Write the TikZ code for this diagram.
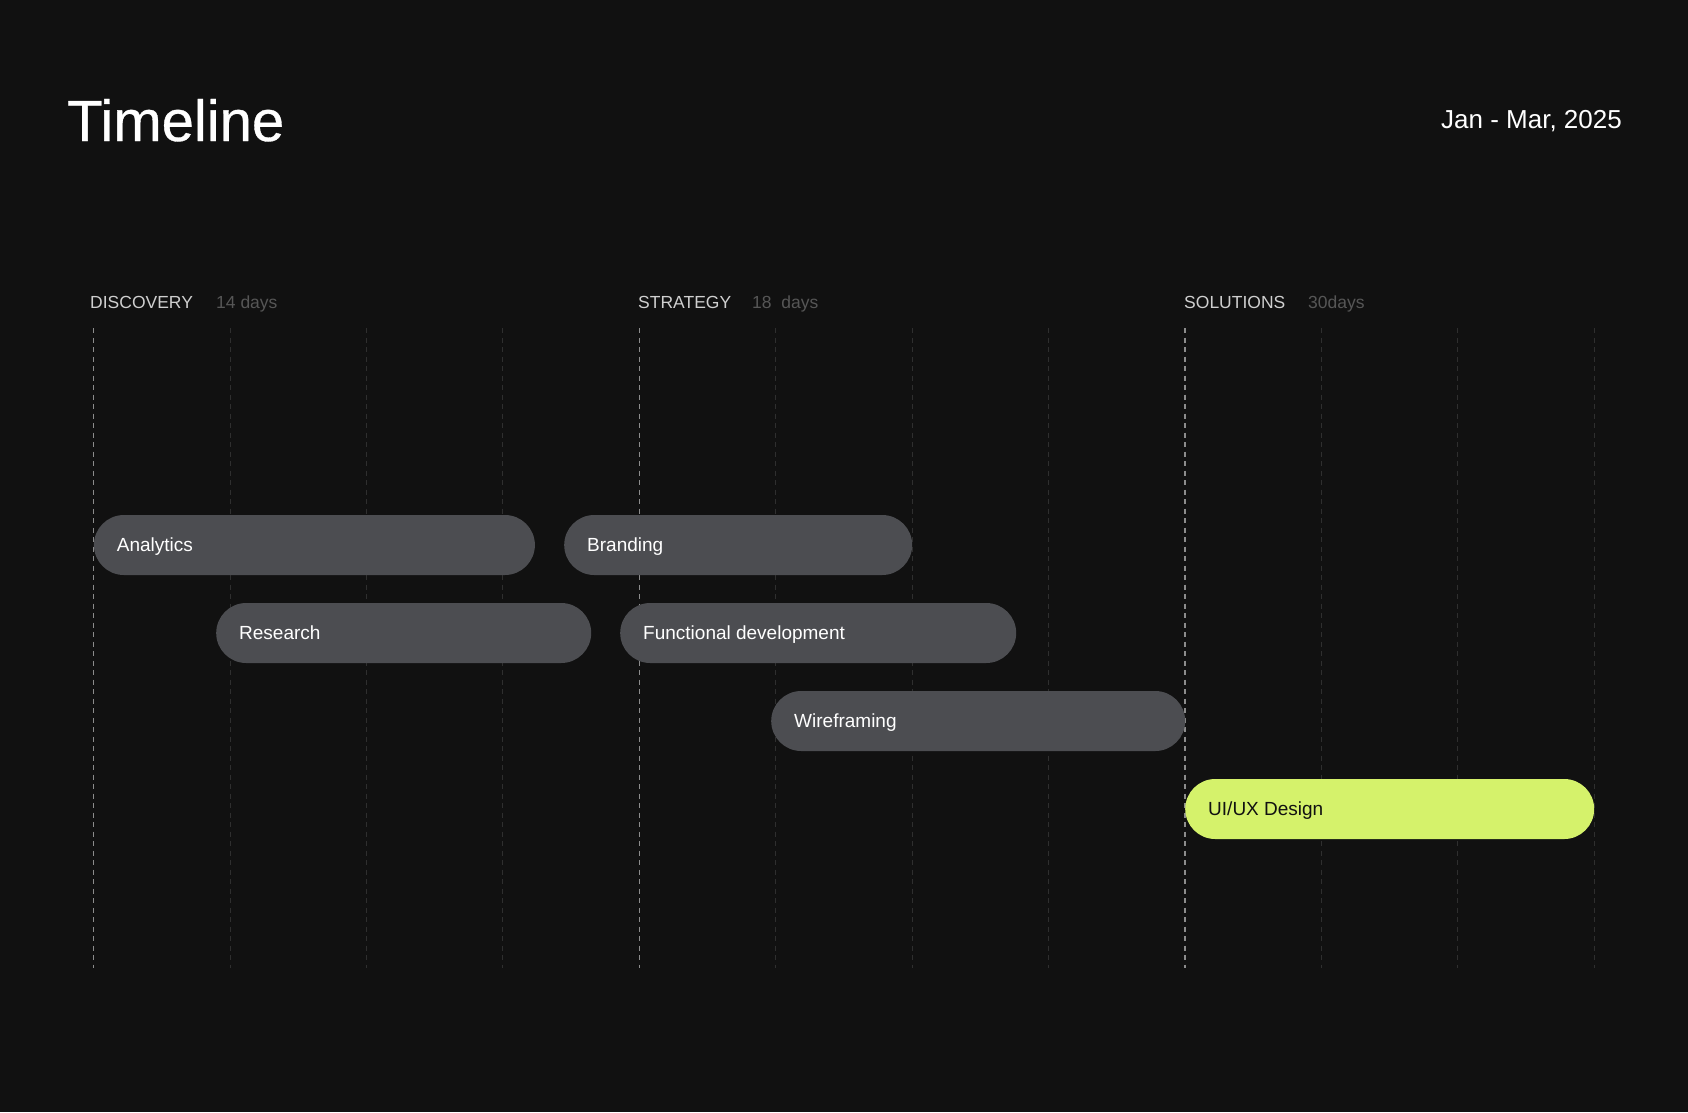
\documentclass[tikz,border=0pt]{standalone}
\usepackage{fontspec}
\setmainfont{Liberation Sans}
\usepackage{xcolor}
\usetikzlibrary{positioning}
\definecolor{bgdark}{HTML}{111111}
\definecolor{bargray}{HTML}{4C4D51}
\definecolor{barlime}{HTML}{D5F26B}
\definecolor{phasegray}{HTML}{CFCFCF}
\definecolor{daysgray}{HTML}{565656}
\definecolor{majorline}{HTML}{8C8C8C}
\definecolor{minorline}{HTML}{2F2F2F}

\begin{document}
\begin{tikzpicture}[x=1pt, y=-1pt]
        % Define styles
        \tikzstyle{bar} = [rectangle, rounded corners=30pt, minimum height=60pt, inner sep=0pt, anchor=west, fill=bargray]
        \tikzstyle{bartext} = [font=\fontsize{19}{22}\selectfont, text=white, inner sep=0pt, text height=13.6pt, text depth=0pt, anchor=west]
        \tikzstyle{phase} = [font=\fontsize{17.5}{20}\selectfont, text=phasegray, inner sep=0pt, anchor=base west]
        \tikzstyle{days} = [font=\fontsize{17.5}{20}\selectfont, text=daysgray, inner sep=0pt, anchor=base west]
        \tikzstyle{majorgrid} = [majorline, line width=1.3pt, dash pattern=on 5pt off 4.5pt]
        \tikzstyle{minorgrid} = [minorline, line width=1pt, dash pattern=on 5pt off 4.5pt]

        % Background
        \fill[bgdark] (0,0) rectangle (1688,1112);

        % Header
        \node (title) [anchor=base west, inner sep=0pt, text=white, font=\fontsize{58}{60}\selectfont\addfontfeatures{FakeBold=0.6}] at (67,141) {Timeline};
        \node (period) [anchor=base east, inner sep=0pt, text=white, font=\fontsize{26}{30}\selectfont] at (1622,128) {Jan - Mar, 2025};

        % Phases
        \node (discovery) [phase] at (90,308) {DISCOVERY};
        \node (discoverydays) [days] at (216,308) {14 days};
        \node (strategy) [phase] at (638,308) {STRATEGY};
        \node (strategydays) [days] at (752,308) {18~~days};
        \node (solutions) [phase] at (1184,308) {SOLUTIONS};
        \node (solutionsdays) [days] at (1308,308) {30days};

        % Grid
        \foreach \k in {1,2,3,5,6,7,9,10,11}
            \draw[minorgrid] (93.7+136.4*\k,328) -- (93.7+136.4*\k,968);
        \foreach \k in {0,4,8}
            \draw[majorgrid] (93.7+136.4*\k,328) -- (93.7+136.4*\k,968);

        % Bars
        \node (analytics) [bar, minimum width=441pt] at (93.7,545) {};
        \node (branding) [bar, minimum width=348pt] at (564,545) {};
        \node (research) [bar, minimum width=375pt] at (216,633) {};
        \node (functional) [bar, minimum width=396pt] at (620,633) {};
        \node (wireframing) [bar, minimum width=414pt] at (771,721) {};
        \node (uiux) [bar, minimum width=409pt, fill=barlime] at (1185,809) {};

        % Bar labels
        \node (analyticstxt) [bartext, right=23pt of analytics.west] {Analytics};
        \node (brandingtxt) [bartext, right=23pt of branding.west] {Branding};
        \node (researchtxt) [bartext, right=23pt of research.west] {Research};
        \node (functionaltxt) [bartext, right=23pt of functional.west] {Functional development};
        \node (wireframingtxt) [bartext, right=23pt of wireframing.west] {Wireframing};
        \node (uiuxtxt) [bartext, right=23pt of uiux.west, text=bgdark] {UI/UX Design};
    \end{tikzpicture}
\end{document}
